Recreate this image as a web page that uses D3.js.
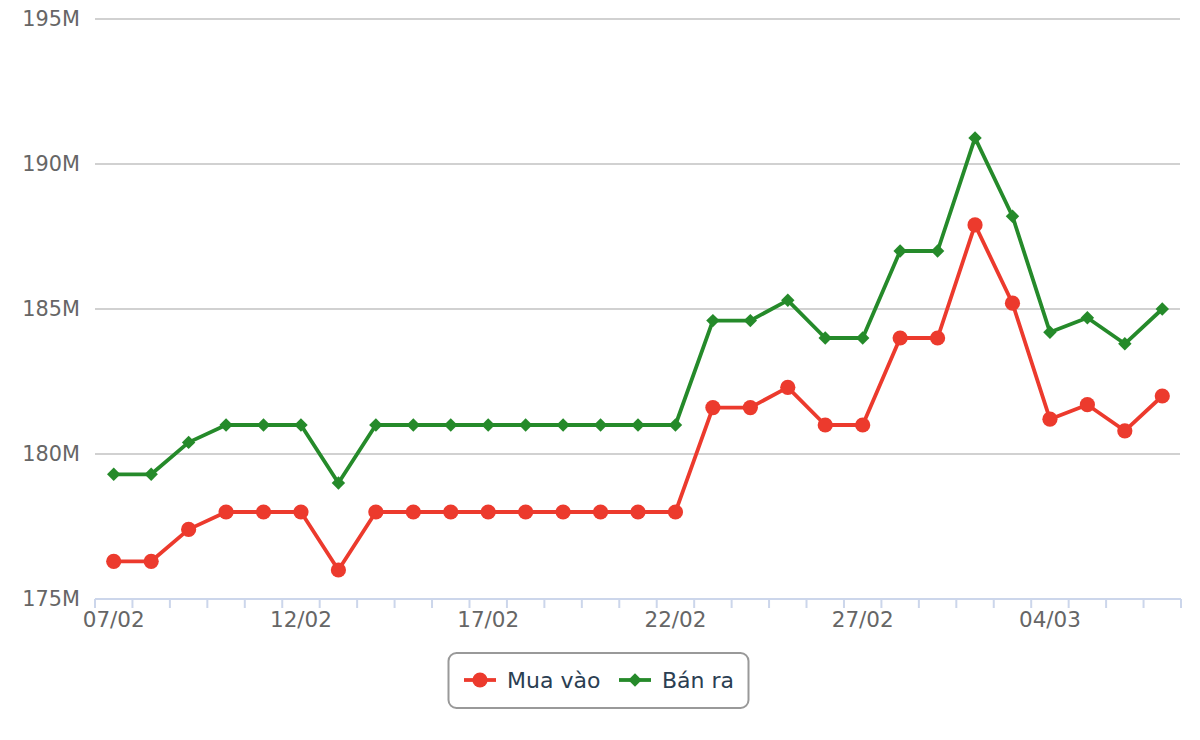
<!DOCTYPE html>
<html><head><meta charset="utf-8">
<script src="https://cdn.jsdelivr.net/npm/d3@7"></script>
<style>body{margin:0;background:#fff;} svg{display:block;font-family:"DejaVu Sans",sans-serif;}</style>
</head><body>
<svg id="c" width="1200" height="740"></svg>
<script>
const dates = ["07/02","08/02","09/02","10/02","11/02","12/02","13/02","14/02","15/02","16/02","17/02","18/02","19/02","20/02","21/02","22/02","23/02","24/02","25/02","26/02","27/02","28/02","01/03","02/03","03/03","04/03","05/03","06/03","07/03"];
const muaVao = [176.3,176.3,177.4,178.0,178.0,178.0,176.0,178.0,178.0,178.0,178.0,178.0,178.0,178.0,178.0,178.0,181.6,181.6,182.3,181.0,181.0,184.0,184.0,187.9,185.2,181.2,181.7,180.8,182.0];
const banRa = [179.3,179.3,180.4,181.0,181.0,181.0,179.0,181.0,181.0,181.0,181.0,181.0,181.0,181.0,181.0,181.0,184.6,184.6,185.3,184.0,184.0,187.0,187.0,190.9,188.2,184.2,184.7,183.8,185.0];
const yTicks = [175,180,185,190,195];
const labelEvery = 5;
const seriesNames = ["Mua vào","Bán ra"];
const colors = ["#ec3a2d","#258a2a"];

const svg = d3.select("#c");
const pLeft = 95, pRight = 1181, pTop = 19, pBottom = 599;
const x = d3.scaleBand().domain(dates).range([pLeft, pRight]).padding(0);
const y = d3.scaleLinear().domain([175,195]).range([pBottom, pTop]);

// gridlines
svg.append("g").selectAll("line").data(yTicks).join("line")
  .attr("x1", pLeft).attr("x2", pRight-1)
  .attr("y1", d=>y(d)).attr("y2", d=>y(d))
  .attr("stroke", "#c2c2c2").attr("stroke-width", 1.6);

// y labels
svg.append("g").selectAll("text").data(yTicks).join("text")
  .attr("x", 80).attr("y", d=>y(d)).attr("dy","0.36em")
  .attr("text-anchor","end").attr("fill","#666").attr("font-size", 20.8)
  .text(d=>d+"M");

// x axis
const xAxis = d3.axisBottom(x).tickSize(0).tickFormat((d,i)=> i%labelEvery===0 ? d : "");
const gx = svg.append("g").attr("transform",`translate(0,${pBottom})`).call(xAxis);
gx.select(".domain").remove();
gx.selectAll("text").attr("font-size",21.5).attr("fill","#666").attr("font-family","DejaVu Sans")
  .attr("y",28).attr("dy",null);
gx.selectAll("line").remove();
svg.append("line").attr("x1",pLeft).attr("x2",pRight).attr("y1",pBottom).attr("y2",pBottom)
  .attr("stroke","#ccd6eb").attr("stroke-width",2);
const bounds = dates.map(d=>x(d)).concat([pRight]);
svg.append("g").selectAll("line").data(bounds).join("line")
  .attr("x1",d=>d).attr("x2",d=>d).attr("y1",pBottom).attr("y2",pBottom+9)
  .attr("stroke","#ccd6eb").attr("stroke-width",2);

const cx = d => x(d) + x.bandwidth()/2;
const line = d3.line().x((v,i)=>cx(dates[i])).y(v=>y(v));

[muaVao, banRa].forEach((data, si) => {
  svg.append("path").datum(data).attr("d", line)
    .attr("fill","none").attr("stroke",colors[si]).attr("stroke-width",3.8)
    .attr("stroke-linejoin","round");
  const g = svg.append("g");
  if (si === 0) {
    g.selectAll("circle").data(data).join("circle")
      .attr("cx",(v,i)=>cx(dates[i])).attr("cy",v=>y(v)).attr("r",7.6)
      .attr("fill",colors[si]);
  } else {
    g.selectAll("path").data(data).join("path")
      .attr("d", d3.symbol(d3.symbolDiamond2, 115))
      .attr("transform",(v,i)=>`translate(${cx(dates[i])},${y(v)})`)
      .attr("fill",colors[si]);
  }
});

// legend
const lg = svg.append("g");
lg.append("rect").attr("x",448.5).attr("y",653).attr("width",300).attr("height",55)
  .attr("rx",8).attr("fill","#fff").attr("stroke","#999").attr("stroke-width",2);
const items = [{x:464, tx:507},{x:619, tx:662}];
items.forEach((it, i) => {
  lg.append("line").attr("x1",it.x).attr("x2",it.x+32).attr("y1",680).attr("y2",680)
    .attr("stroke",colors[i]).attr("stroke-width",3.8);
  if (i===0) lg.append("circle").attr("cx",it.x+16).attr("cy",680).attr("r",7.6).attr("fill",colors[i]);
  else lg.append("path").attr("d",d3.symbol(d3.symbolDiamond2,115)).attr("transform",`translate(${it.x+16},680)`).attr("fill",colors[i]);
  lg.append("text").attr("x",it.tx).attr("y",680).attr("dy","0.36em")
    .attr("font-size",22).attr("fill","#2b3e52").text(seriesNames[i]);
});
</script>
</body></html>
